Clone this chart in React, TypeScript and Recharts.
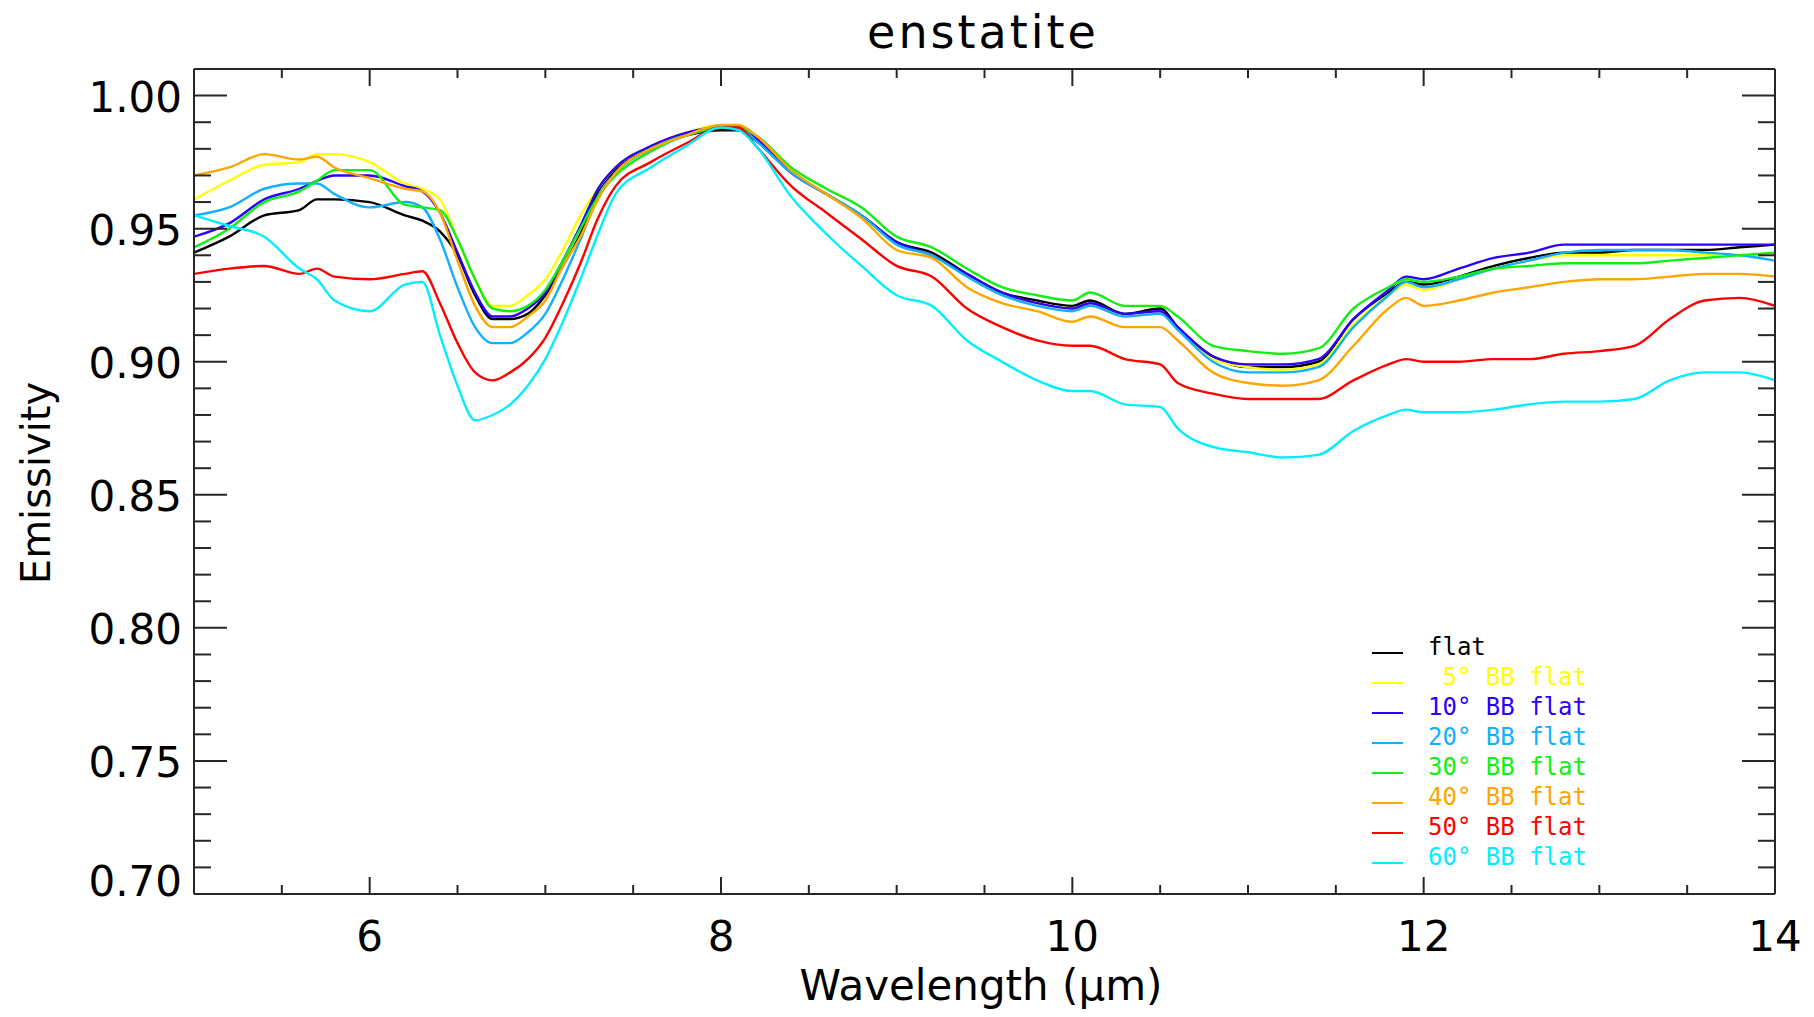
import React from 'react';
import { LineChart, Line, XAxis, YAxis } from 'recharts';

// wavelength grid (µm), shared by every spectrum
const WAVELENGTH = [
  5.0, 5.2, 5.4, 5.6, 5.7, 5.8, 6.0, 6.2, 6.3, 6.4, 6.5, 6.6, 6.7, 6.8, 6.9,
  7.0, 7.1, 7.2, 7.3, 7.4, 7.6, 7.8, 8.0, 8.1, 8.2, 8.4, 8.6, 8.8,
  9.0, 9.2, 9.4, 9.6, 9.8, 10.0, 10.1, 10.3, 10.5, 10.6, 10.8,
  11.0, 11.2, 11.4, 11.6, 11.8, 11.9, 12.0, 12.2, 12.4, 12.6, 12.8,
  13.0, 13.2, 13.4, 13.6, 13.8, 14.0,
];

const FLAT = [
  0.941, 0.947, 0.955, 0.957, 0.961, 0.961, 0.960, 0.955, 0.953, 0.949, 0.940, 0.925, 0.916, 0.916, 0.918,
  0.925, 0.936, 0.948, 0.964, 0.972, 0.980, 0.985, 0.987, 0.987, 0.983, 0.971, 0.963, 0.955,
  0.945, 0.941, 0.933, 0.926, 0.923, 0.921, 0.923, 0.918, 0.920, 0.913, 0.902,
  0.898, 0.898, 0.900, 0.916, 0.926, 0.930, 0.929, 0.932, 0.936, 0.939, 0.941,
  0.941, 0.942, 0.942, 0.942, 0.943, 0.944,
];

const BB_5 = [
  0.961, 0.968, 0.974, 0.975, 0.978, 0.978, 0.975, 0.967, 0.965, 0.961, 0.946, 0.931, 0.921, 0.921, 0.925,
  0.931, 0.942, 0.955, 0.965, 0.973, 0.981, 0.986, 0.989, 0.988, 0.984, 0.971, 0.963, 0.955,
  0.944, 0.940, 0.932, 0.925, 0.922, 0.920, 0.921, 0.917, 0.918, 0.912, 0.901,
  0.898, 0.897, 0.899, 0.914, 0.925, 0.929, 0.927, 0.931, 0.935, 0.938, 0.940,
  0.940, 0.940, 0.940, 0.940, 0.940, 0.941,
];

const BB_10 = [
  0.947, 0.952, 0.961, 0.965, 0.968, 0.970, 0.970, 0.966, 0.964, 0.956, 0.941, 0.926, 0.917, 0.917, 0.920,
  0.926, 0.938, 0.951, 0.965, 0.973, 0.981, 0.986, 0.988, 0.988, 0.984, 0.971, 0.963, 0.955,
  0.945, 0.940, 0.933, 0.926, 0.922, 0.920, 0.922, 0.918, 0.919, 0.913, 0.902,
  0.899, 0.899, 0.901, 0.916, 0.927, 0.932, 0.931, 0.935, 0.939, 0.941, 0.944,
  0.944, 0.944, 0.944, 0.944, 0.944, 0.944,
];

const BB_20 = [
  0.955, 0.958, 0.965, 0.967, 0.967, 0.963, 0.958, 0.960, 0.958, 0.946, 0.928, 0.913, 0.907, 0.907, 0.911,
  0.918, 0.931, 0.946, 0.962, 0.971, 0.980, 0.985, 0.988, 0.988, 0.983, 0.971, 0.963, 0.955,
  0.944, 0.940, 0.932, 0.925, 0.921, 0.919, 0.921, 0.917, 0.918, 0.912, 0.900,
  0.896, 0.896, 0.898, 0.913, 0.925, 0.930, 0.928, 0.931, 0.935, 0.938, 0.941,
  0.942, 0.942, 0.942, 0.941, 0.940, 0.938,
];

const BB_30 = [
  0.943, 0.950, 0.960, 0.964, 0.968, 0.972, 0.972, 0.959, 0.958, 0.957, 0.946, 0.931, 0.920, 0.919, 0.921,
  0.927, 0.938, 0.950, 0.962, 0.970, 0.979, 0.985, 0.988, 0.988, 0.985, 0.973, 0.965, 0.958,
  0.947, 0.943, 0.935, 0.928, 0.925, 0.923, 0.926, 0.921, 0.921, 0.917, 0.906,
  0.904, 0.903, 0.905, 0.920, 0.928, 0.931, 0.930, 0.932, 0.935, 0.936, 0.937,
  0.937, 0.937, 0.938, 0.939, 0.940, 0.941,
];

const BB_40 = [
  0.970, 0.973, 0.978, 0.976, 0.977, 0.973, 0.969, 0.965, 0.964, 0.956, 0.938, 0.921, 0.913, 0.913, 0.917,
  0.923, 0.936, 0.947, 0.961, 0.971, 0.980, 0.985, 0.989, 0.989, 0.985, 0.972, 0.963, 0.954,
  0.942, 0.939, 0.928, 0.922, 0.919, 0.915, 0.917, 0.913, 0.913, 0.908, 0.896,
  0.892, 0.891, 0.893, 0.906, 0.920, 0.924, 0.921, 0.923, 0.926, 0.928, 0.930,
  0.931, 0.931, 0.932, 0.933, 0.933, 0.932,
];

const BB_50 = [
  0.933, 0.935, 0.936, 0.933, 0.935, 0.932, 0.931, 0.933, 0.934, 0.922, 0.907, 0.896, 0.893, 0.896, 0.901,
  0.909, 0.922, 0.937, 0.954, 0.966, 0.975, 0.982, 0.988, 0.988, 0.981, 0.966, 0.956, 0.946,
  0.936, 0.932, 0.920, 0.913, 0.908, 0.906, 0.906, 0.901, 0.899, 0.892, 0.888,
  0.886, 0.886, 0.886, 0.893, 0.899, 0.901, 0.900, 0.900, 0.901, 0.901, 0.903,
  0.904, 0.906, 0.916, 0.923, 0.924, 0.921,
];

const BB_60 = [
  0.955, 0.951, 0.947, 0.935, 0.931, 0.923, 0.919, 0.929, 0.930, 0.910, 0.891, 0.878, 0.880, 0.884, 0.891,
  0.901, 0.915, 0.931, 0.948, 0.963, 0.973, 0.981, 0.988, 0.987, 0.981, 0.962, 0.948, 0.936,
  0.925, 0.921, 0.908, 0.900, 0.893, 0.889, 0.889, 0.884, 0.883, 0.875, 0.868,
  0.866, 0.864, 0.865, 0.874, 0.880, 0.882, 0.881, 0.881, 0.882, 0.884, 0.885,
  0.885, 0.886, 0.893, 0.896, 0.896, 0.893,
];

const SERIES = [
  { key: 'flat', label: 'flat', color: '#000000', values: FLAT },
  { key: 'bb5', label: ' 5° BB flat', color: '#ffff00', values: BB_5 },
  { key: 'bb10', label: '10° BB flat', color: '#2c00ff', values: BB_10 },
  { key: 'bb20', label: '20° BB flat', color: '#10b0ff', values: BB_20 },
  { key: 'bb30', label: '30° BB flat', color: '#10f010', values: BB_30 },
  { key: 'bb40', label: '40° BB flat', color: '#ffa500', values: BB_40 },
  { key: 'bb50', label: '50° BB flat', color: '#ff0000', values: BB_50 },
  { key: 'bb60', label: '60° BB flat', color: '#00eeff', values: BB_60 },
];

const X_TICKS = [5.5, 6, 6.5, 7, 7.5, 8, 8.5, 9, 9.5, 10, 10.5, 11, 11.5, 12, 12.5, 13, 13.5, 14];
const X_LABELED = [6, 8, 10, 12, 14];
const Y_TICKS = [
  0.70, 0.71, 0.72, 0.73, 0.74, 0.75, 0.76, 0.77, 0.78, 0.79, 0.80, 0.81, 0.82, 0.83, 0.84, 0.85,
  0.86, 0.87, 0.88, 0.89, 0.90, 0.91, 0.92, 0.93, 0.94, 0.95, 0.96, 0.97, 0.98, 0.99, 1.00,
];
const Y_LABELED = [0.70, 0.75, 0.80, 0.85, 0.90, 0.95, 1.00];

const X_DOMAIN = [5, 14];
const Y_DOMAIN = [0.70, 1.01];

const FRAME = '#262626';
const FONT = '"DejaVu Sans", sans-serif';

const rows = WAVELENGTH.map((w, i) => {
  const row: Record<string, number> = { w };
  SERIES.forEach(s => { row[s.key] = s.values[i]; });
  return row;
});

// ticks point inward, majors longer; labels only on the bottom/left axes
const BottomTick = ({ x, y, payload }: any) => {
  const major = X_LABELED.includes(payload.value);
  return (
    <g>
      <line x1={x} y1={y} x2={x} y2={y - (major ? 17 : 9)} stroke={FRAME} strokeWidth={2} />
      {major && (
        <text x={x} y={y + 57} textAnchor="middle" fontFamily={FONT} fontSize={42} fill="#000">
          {payload.value}
        </text>
      )}
    </g>
  );
};

const TopTick = ({ x, y, payload }: any) => {
  const major = X_LABELED.includes(payload.value);
  return <line x1={x} y1={y} x2={x} y2={y + (major ? 17 : 9)} stroke={FRAME} strokeWidth={2} />;
};

const LeftTick = ({ x, y, payload }: any) => {
  const major = Y_LABELED.includes(payload.value);
  // the lowest label is lifted so it clears the x axis
  const base = payload.value === 0.70 ? y + 2 : y + 16;
  return (
    <g>
      <line x1={x} y1={y} x2={x + (major ? 33 : 17)} y2={y} stroke={FRAME} strokeWidth={2} />
      {major && (
        <text x={x - 12} y={base} textAnchor="end" fontFamily={FONT} fontSize={42} fill="#000">
          {payload.value.toFixed(2)}
        </text>
      )}
    </g>
  );
};

const RightTick = ({ x, y, payload }: any) => {
  const major = Y_LABELED.includes(payload.value);
  return <line x1={x} y1={y} x2={x - (major ? 33 : 17)} y2={y} stroke={FRAME} strokeWidth={2} />;
};

const LegendBox = () => (
  <div style={{ position: 'absolute', left: 1372, top: 632, fontFamily: '"DejaVu Sans Mono", monospace', fontSize: 24 }}>
    {SERIES.map(s => (
      <div key={s.key} style={{ position: 'relative', height: 30, width: 240 }}>
        <div style={{ position: 'absolute', left: 0, top: 20, width: 31, height: 2, background: s.color }} />
        <span style={{ position: 'absolute', left: 56, top: 0, lineHeight: '30px', color: s.color, whiteSpace: 'pre' }}>
          {s.label}
        </span>
      </div>
    ))}
  </div>
);

export default function App() {
  return (
    <div style={{ position: 'absolute', left: 0, top: 0, width: 1814, height: 1017, background: '#fff' }}>
      <LineChart width={1814} height={1017} data={rows} margin={{ top: 68, right: 38, bottom: 0, left: 0 }}>
        <XAxis
          dataKey="w"
          type="number"
          domain={X_DOMAIN}
          ticks={X_TICKS}
          interval={0}
          height={123}
          tickSize={0}
          tickMargin={0}
          tick={<BottomTick />}
          axisLine={{ stroke: FRAME, strokeWidth: 2 }}
          allowDataOverflow
        />
        <XAxis
          xAxisId="top"
          orientation="top"
          dataKey="w"
          type="number"
          domain={X_DOMAIN}
          ticks={X_TICKS}
          interval={0}
          height={1}
          tickSize={0}
          tickMargin={0}
          tick={<TopTick />}
          axisLine={{ stroke: FRAME, strokeWidth: 2 }}
          allowDataOverflow
        />
        <YAxis
          type="number"
          domain={Y_DOMAIN}
          ticks={Y_TICKS}
          interval={0}
          width={194}
          tickSize={0}
          tickMargin={0}
          tick={<LeftTick />}
          axisLine={{ stroke: FRAME, strokeWidth: 2 }}
          allowDataOverflow
        />
        <YAxis
          yAxisId="right"
          orientation="right"
          type="number"
          domain={Y_DOMAIN}
          ticks={Y_TICKS}
          interval={0}
          width={1}
          tickSize={0}
          tickMargin={0}
          tick={<RightTick />}
          axisLine={{ stroke: FRAME, strokeWidth: 2 }}
          allowDataOverflow
        />
        {SERIES.map(s => (
          <Line
            key={s.key}
            dataKey={s.key}
            type="monotone"
            stroke={s.color}
            strokeWidth={2.4}
            dot={false}
            activeDot={false}
            isAnimationActive={false}
          />
        ))}
        <text x={983} y={48} textAnchor="middle" fontFamily={FONT} fontSize={46} letterSpacing={3} fill="#000">
          enstatite
        </text>
        <text x={981} y={1000} textAnchor="middle" fontFamily={FONT} fontSize={42} fill="#000">
          Wavelength (μm)
        </text>
        <text
          x={50}
          y={483}
          textAnchor="middle"
          fontFamily={FONT}
          fontSize={40}
          fill="#000"
          transform="rotate(-90 50 483)"
        >
          Emissivity
        </text>
      </LineChart>
      <LegendBox />
    </div>
  );
}
